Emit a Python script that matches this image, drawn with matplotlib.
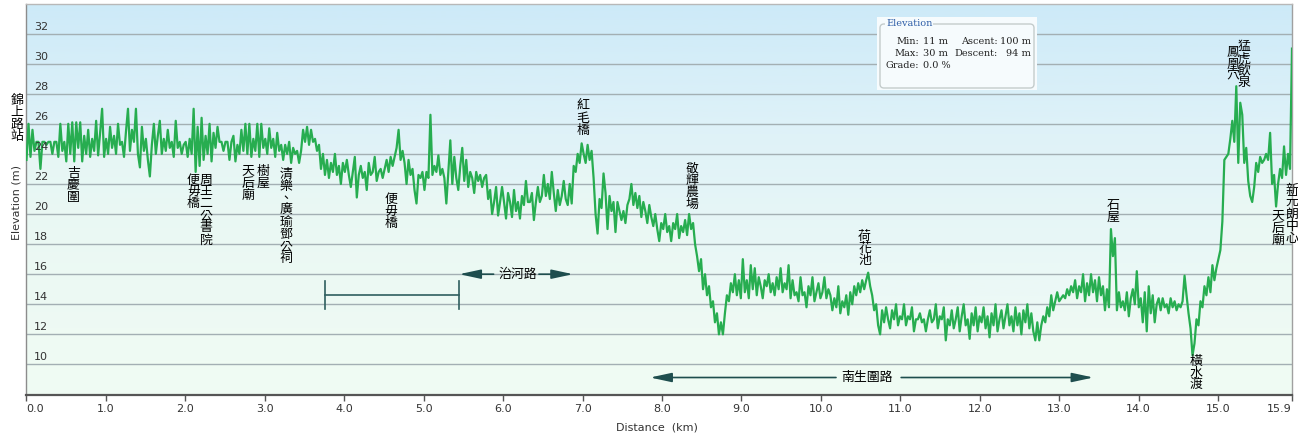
import numpy as np
import matplotlib
matplotlib.use("Agg")
import matplotlib.pyplot as plt
from matplotlib import transforms
from matplotlib.colors import LinearSegmentedColormap
from matplotlib.patches import Rectangle, FancyBboxPatch

# ---------------- data (elevation in m, sampled every ~0.025 km) ----------------
seg_00 = [23.6, 26.0, 23.8, 25.6, 24.2, 24.8, 24.8, 23.0, 24.8, 24.8,
          24.6, 24.8, 24.8, 24.0, 24.8, 24.8, 23.8, 26.0, 24.2, 24.8,
          23.5, 26.0, 24.0, 26.1, 23.5, 26.1, 24.4, 26.1, 23.5, 25.2,
          24.0, 25.6, 23.8, 25.0, 24.2, 26.2, 23.9, 25.4, 27.0, 23.8]
seg_01 = [25.0, 24.0, 25.8, 24.4, 25.2, 24.0, 26.0, 24.6, 24.8, 23.8,
          25.5, 27.0, 24.2, 25.6, 24.8, 27.0, 24.0, 23.1, 25.8, 24.2,
          25.0, 23.6, 22.5, 24.6, 26.0, 24.0, 25.2, 26.2, 24.0, 25.0,
          24.2, 25.6, 24.4, 24.8, 23.8, 26.2, 24.4, 24.8, 24.0, 24.6]
seg_02 = [24.8, 23.8, 25.0, 24.0, 27.0, 22.8, 25.8, 23.2, 26.4, 23.6,
          25.2, 24.0, 26.0, 23.5, 25.4, 24.4, 25.8, 24.8, 24.8, 24.2,
          24.8, 24.8, 23.6, 24.8, 25.2, 23.5, 24.6, 24.0, 25.6, 24.2,
          26.0, 24.0, 26.0, 23.8, 25.0, 24.2, 26.0, 23.8, 26.0, 24.4]
seg_03 = [25.0, 24.0, 25.7, 24.4, 25.0, 23.8, 25.4, 24.2, 24.6, 23.6,
          24.6, 24.0, 24.8, 23.4, 24.4, 24.0, 24.2, 23.4, 24.2, 25.6,
          24.8, 25.8, 24.6, 25.6, 24.8, 25.0, 24.2, 24.6, 23.0, 24.0,
          22.6, 23.6, 22.4, 23.4, 22.8, 24.0, 22.6, 23.2, 22.0, 23.4]
seg_04 = [22.8, 23.6, 22.6, 21.8, 22.8, 23.8, 21.1, 22.6, 23.2, 22.4,
          22.8, 21.6, 23.4, 22.6, 22.8, 23.8, 22.2, 22.8, 23.0, 22.4,
          23.0, 23.6, 22.8, 23.8, 23.2, 23.8, 24.4, 25.6, 23.6, 24.2,
          23.4, 22.0, 23.6, 22.6, 23.0, 21.6, 20.7, 22.6, 22.4, 22.8]
seg_05 = [21.6, 22.8, 22.4, 26.6, 22.6, 23.2, 22.8, 23.9, 22.6, 23.0,
          22.4, 20.7, 22.8, 24.9, 22.0, 23.8, 22.4, 21.6, 23.2, 24.4,
          22.2, 23.6, 21.8, 22.8, 22.4, 21.4, 22.8, 22.2, 22.6, 21.8,
          22.4, 22.6, 21.0, 21.6, 20.0, 20.8, 21.8, 19.9, 20.8, 21.8]
seg_06 = [20.8, 19.7, 21.4, 20.8, 19.8, 21.6, 20.2, 20.8, 19.7, 21.2,
          20.6, 22.2, 20.8, 20.8, 21.4, 19.6, 20.8, 21.8, 20.8, 21.2,
          22.6, 21.2, 22.0, 21.0, 22.8, 21.4, 20.2, 21.6, 20.6, 21.2,
          22.2, 21.0, 20.6, 22.0, 20.7, 23.2, 22.8, 24.0, 23.4, 24.7]
seg_07 = [24.0, 23.4, 24.6, 23.6, 24.2, 22.4, 20.0, 18.7, 21.0, 20.4,
          22.7, 21.4, 19.0, 21.2, 20.2, 20.8, 18.8, 20.8, 20.2, 19.6,
          20.2, 19.4, 20.6, 21.0, 22.0, 20.6, 21.4, 20.4, 21.2, 19.8,
          20.8, 20.2, 19.4, 20.6, 19.8, 19.2, 20.0, 19.0, 18.2, 19.4]
seg_08 = [19.0, 20.0, 18.8, 19.2, 18.2, 19.4, 19.0, 20.0, 18.4, 19.2,
          18.8, 19.6, 18.6, 20.0, 19.0, 19.4, 18.0, 17.2, 16.2, 17.0,
          15.0, 16.0, 14.6, 15.2, 13.8, 14.2, 12.8, 13.4, 12.0, 12.8,
          12.0, 13.4, 14.6, 14.2, 15.4, 14.8, 16.0, 14.6, 15.6, 14.4]
seg_09 = [17.0, 14.8, 15.6, 14.4, 16.6, 15.0, 16.4, 14.6, 15.8, 15.2,
          14.4, 15.6, 15.2, 16.0, 14.8, 15.4, 14.6, 15.8, 15.0, 16.4,
          14.8, 15.4, 15.0, 16.6, 14.4, 15.6, 14.6, 14.8, 14.2, 15.8,
          14.6, 14.8, 13.8, 15.2, 14.6, 15.8, 14.2, 14.8, 15.4, 14.4]
seg_10 = [14.8, 15.8, 14.4, 15.0, 14.6, 13.6, 14.4, 13.8, 15.2, 13.4,
          14.2, 13.8, 14.6, 13.3, 14.8, 14.0, 15.2, 14.6, 15.4, 14.8,
          15.6, 15.0, 15.6, 16.1, 15.2, 14.6, 13.6, 14.0, 12.6, 12.0,
          13.6, 12.8, 13.8, 13.0, 12.4, 13.6, 13.0, 14.0, 12.6, 13.2]
seg_11 = [13.0, 14.0, 12.6, 13.2, 13.0, 13.8, 12.2, 13.0, 13.0, 13.4,
          12.8, 13.0, 12.2, 13.0, 13.6, 12.8, 13.0, 14.0, 12.4, 13.2,
          13.0, 13.8, 11.6, 13.0, 12.6, 13.6, 12.4, 13.0, 13.8, 12.2,
          13.2, 14.0, 12.6, 13.0, 11.7, 13.4, 12.6, 13.8, 12.2, 13.2]
seg_12 = [12.8, 13.8, 12.4, 13.2, 11.8, 13.4, 12.6, 14.0, 12.2, 13.0,
          13.6, 12.4, 13.2, 14.0, 12.6, 13.2, 12.2, 13.8, 12.6, 13.4,
          12.0, 13.6, 12.8, 14.0, 12.4, 13.4, 12.2, 11.6, 12.8, 11.6,
          12.6, 13.2, 12.8, 13.8, 13.2, 14.6, 13.6, 14.2, 14.8, 14.2]
seg_13 = [14.4, 14.6, 14.4, 15.0, 14.6, 15.2, 14.8, 15.6, 14.4, 15.2,
          14.8, 16.0, 14.2, 15.4, 14.6, 16.0, 14.8, 15.6, 14.2, 15.8,
          14.6, 15.2, 13.6, 15.0, 13.8, 19.0, 17.2, 18.4, 13.6, 14.8,
          13.8, 14.2, 13.6, 14.8, 13.2, 14.4, 15.0, 14.0, 16.2, 13.8]
seg_14 = [14.4, 12.8, 14.8, 12.2, 15.2, 13.4, 14.6, 12.8, 14.0, 14.4,
          13.6, 14.4, 13.8, 14.0, 13.4, 14.4, 13.8, 14.2, 13.6, 14.0,
          13.8, 14.2, 15.9, 14.6, 13.4, 12.4, 10.6, 11.4, 13.0, 12.6,
          14.2, 13.8, 15.2, 14.6, 15.8, 14.8, 16.6, 15.6, 16.4, 17.0]
seg_15 = [17.6, 19.5, 23.6, 23.8, 24.0, 25.0, 26.2, 24.8, 28.5, 23.4,
          27.4, 26.6, 23.4, 24.4, 22.2, 21.2, 20.8, 21.8, 23.4, 22.8,
          23.8, 23.4, 23.6, 24.0, 23.6, 25.4, 22.0, 22.6, 20.5, 22.0,
          23.0, 22.4, 24.5, 22.6, 24.0, 23.0, 31.0]

elevation_m = np.array(seg_00 + seg_01 + seg_02 + seg_03 + seg_04 + seg_05 +
                       seg_06 + seg_07 + seg_08 + seg_09 + seg_10 + seg_11 +
                       seg_12 + seg_13 + seg_14 + seg_15)
track_km = 15.93
distance_km = np.linspace(0, track_km, len(elevation_m))

xtick_km = [0, 1, 2, 3, 4, 5, 6, 7, 8, 9, 10, 11, 12, 13, 14, 15, track_km]
xtick_labels = ["0.0", "1.0", "2.0", "3.0", "4.0", "5.0", "6.0", "7.0", "8.0",
                "9.0", "10.0", "11.0", "12.0", "13.0", "14.0", "15.0", "15.9"]
ytick_m = [10, 12, 14, 16, 18, 20, 22, 24, 26, 28, 30, 32]

waypoint_names = ["錦上路站", "吉慶圍", "便毋橋", "周王二公書院", "天后廟", "樹屋",
                  "清樂、廣瑜鄧公祠", "便毋橋", "紅毛橋", "敬輝農場", "荷花池", "石屋",
                  "橫水渡", "鳳凰穴", "猛虎飲泉", "天后廟", "新元朗中心"]
waypoint_km = [-0.12, 0.59, 2.10, 2.26, 2.79, 2.98, 3.27, 4.59, 7.00, 8.38,
               10.55, 13.68, 14.72, 15.19, 15.33, 15.75, 15.93]
waypoint_label_top_m = [28.0, 23.1, 22.7, 22.7, 23.25, 23.25, 23.05, 21.4, 27.6, 23.45,
                        18.95, 21.0, 10.66, 31.2, 31.55, 20.27, 22.0]

road_names = ["治河路", "南生圍路"]
road_level_m = [16.0, 9.13]
road_text_km = [6.18, 10.58]
road_left_arrow_km = [(5.447, 5.88), (7.85, 10.19)]   # (head, tail)
road_right_arrow_km = [(6.45, 6.88), (11.01, 13.43)]  # (tail, head)
bracket_km = (3.76, 5.447)
bracket_level_m = 14.64

stat_min_m, stat_max_m = 11, 30
stat_ascent_m, stat_descent_m = 100, 94
stat_grade_pct = 0.0

# ---------------- figure ----------------
W, H = 1298, 441
fig = plt.figure(figsize=(W / 100, H / 100), dpi=100)
ax = fig.add_axes([26.5 / W, (H - 394.5) / H, (1292 - 26.5) / W, (394.5 - 3.5) / H])
ax.set_xlim(0, track_km)
ax.set_ylim(8, 34)

bg = LinearSegmentedColormap.from_list("bg", ["#cdeaf8", "#dff2f8", "#eaf8f6", "#f2fcf6"])
ax.imshow(np.linspace(0, 1, 256)[:, None], cmap=bg, extent=[0, track_km, 8, 34],
          origin="upper", aspect="auto", zorder=0, interpolation="bilinear")
ax.fill_between(distance_km, 8, elevation_m, color="#eefbf1", alpha=0.45, lw=0, zorder=1)
for v in ytick_m:
    ax.axhline(v, color="#a3afb3", lw=1.0, zorder=1.5)
ax.plot(distance_km, elevation_m, color="#27ad50", lw=1.6, zorder=3, solid_joinstyle="round")

# spines / ticks
for s, c, w in [("left", "#8c8c8c", 1.0), ("bottom", "#555555", 1.6),
                ("top", "#b8b8b8", 1.0), ("right", "#a0a0a0", 1.0)]:
    ax.spines[s].set_color(c)
    ax.spines[s].set_linewidth(w)
ax.set_yticks([])
ax.set_xticks(xtick_km, xtick_labels)
ax.tick_params(axis="x", direction="out", length=4, width=1, color="#555555",
               pad=3, labelsize=8, labelcolor="#333333")
lbls = ax.get_xticklabels()
lbls[0].set_ha("left")
lbls[-1].set_ha("right")

ytr = transforms.offset_copy(ax.get_yaxis_transform(), fig=fig, x=7.5, y=7, units="dots")
for v in ytick_m:
    ax.text(0, v, str(v), transform=ytr, ha="left", va="center", fontsize=8,
            color="#333333", zorder=4)

fig.text(17 / W, 1 - 203 / H, "Elevation (m)", rotation=90, ha="center", va="center",
         fontsize=8, color="#333333")
fig.text(657 / W, 1 - 428 / H, "Distance  (km)", ha="center", va="center",
         fontsize=8, color="#333333")

cjk = ["Noto Sans CJK TC", "DejaVu Sans"]
for name, km, top in zip(waypoint_names, waypoint_km, waypoint_label_top_m):
    ax.text(km, top, "\n".join(name), ha="center", va="top", fontsize=9.3,
            family=cjk, linespacing=0.9, color="black", zorder=6, clip_on=False)

arrow_c = "#1e4e4e"
astyle = "-|>,head_length=1.3,head_width=0.28"
for name, lvl, tkm, (lh, lt), (rt, rh) in zip(road_names, road_level_m, road_text_km,
                                               road_left_arrow_km, road_right_arrow_km):
    ax.annotate("", xy=(lh, lvl), xytext=(lt, lvl),
                arrowprops=dict(arrowstyle=astyle, color=arrow_c, lw=1.2,
                                shrinkA=0, shrinkB=0, mutation_scale=10), zorder=5)
    ax.annotate("", xy=(rh, lvl), xytext=(rt, lvl),
                arrowprops=dict(arrowstyle=astyle, color=arrow_c, lw=1.2,
                                shrinkA=0, shrinkB=0, mutation_scale=10), zorder=5)
    ax.text(tkm, lvl, name, ha="center", va="center", fontsize=9.3, family=cjk,
            color="black", zorder=6)

ax.plot(bracket_km, [bracket_level_m] * 2, color="#2f5f5f", lw=1.2, zorder=5)
for bk in bracket_km:
    ax.plot([bk, bk], [bracket_level_m - 0.93, bracket_level_m + 0.93],
            color="#2f5f5f", lw=1.2, zorder=5)

# statistics box (pixel coordinates)
ident = transforms.IdentityTransform()
fig.add_artist(Rectangle((877, H - 90), 160, 73, transform=ident,
                         facecolor="#f6fbfd", edgecolor="none", zorder=10))
fig.add_artist(FancyBboxPatch((880, H - 88), 154, 64, transform=ident,
                              boxstyle="round,pad=0,rounding_size=4",
                              facecolor="none", edgecolor="#c4cccc", lw=1.0, zorder=11))
serif = ["DejaVu Serif"]
def ptext(x, y, s, ha="left", color="#222222"):
    fig.text(x / W, 1 - y / H, s, ha=ha, va="center", fontsize=7, family=serif,
             color=color, zorder=12)
t = fig.text(886 / W, 1 - 24 / H, "Elevation", ha="left", va="center", fontsize=7,
             family=serif, color="#2f5fa8", zorder=12)
t.set_bbox(dict(facecolor="#f6fbfd", edgecolor="none", pad=0.5))
ptext(919, 42, "Min:", "right")
ptext(923, 42, f"{stat_min_m} m", "left")
ptext(998, 42, "Ascent:", "right")
ptext(1031, 42, f"{stat_ascent_m} m", "right")
ptext(919, 54, "Max:", "right")
ptext(923, 54, f"{stat_max_m} m", "left")
ptext(998, 54, "Descent:", "right")
ptext(1031, 54, f"{stat_descent_m} m", "right")
ptext(919, 65, "Grade:", "right")
ptext(923, 65, f"{stat_grade_pct:.1f} %", "left")

fig.savefig("out.png", dpi=100, facecolor="white")
